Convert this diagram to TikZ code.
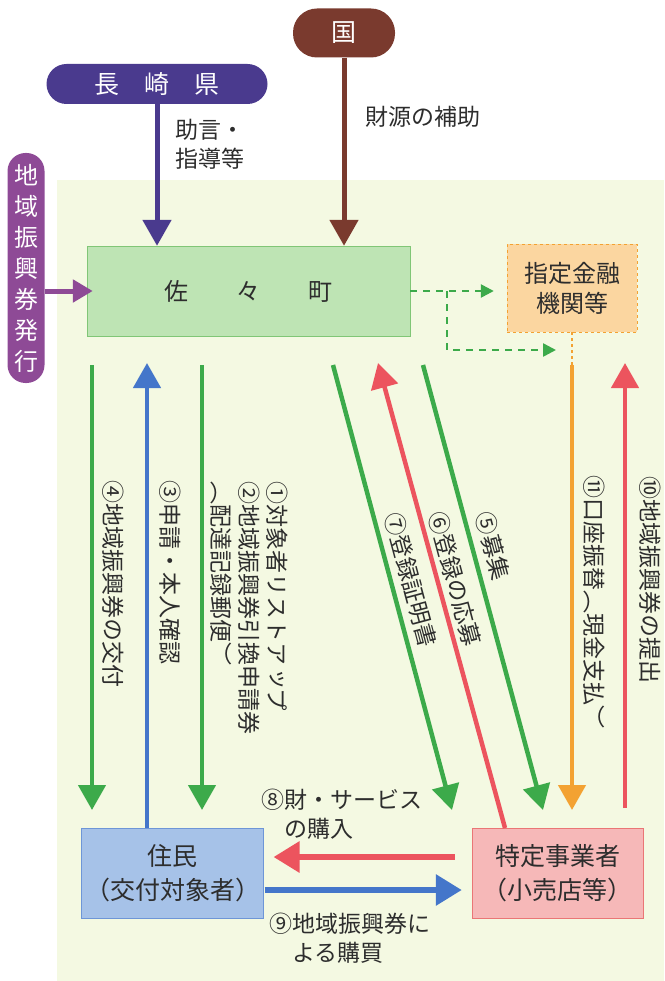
\documentclass[tikz,border=0pt]{standalone}
\usepackage{fontspec}
\setmainfont{Noto Sans CJK JP}
\newfontfamily\tatefont[Vertical=RotatedGlyphs]{Noto Sans CJK JP}
\usetikzlibrary{arrows.meta}
\usetikzlibrary{positioning}
\definecolor{kuni}{RGB}{122,58,46}
\definecolor{ken}{RGB}{74,58,142}
\definecolor{hakko}{RGB}{142,74,150}
\definecolor{midori}{RGB}{60,170,74}
\definecolor{ao}{RGB}{68,118,202}
\definecolor{aka}{RGB}{236,84,94}
\definecolor{daidai}{RGB}{243,162,50}
\definecolor{haikei}{RGB}{244,249,226}
\definecolor{moji}{RGB}{45,45,45}
\tikzstyle{capsule}=[rectangle, text=white, inner sep=0pt,
					font=\fontsize{25}{28}\selectfont, text centered]

\begin{document}
\begin{tikzpicture}[x=1pt, y=-1pt,
 boxnode/.style={rectangle, align=center, text=moji, minimum width=171pt, minimum height=90pt, font=\fontsize{25}{34}\selectfont},
 tatelabel/.style={rotate=-90, align=left, text=moji, inner sep=0pt, font=\tatefont\fontsize{23}{28}\selectfont},
 yokolabel/.style={align=left, text=moji, inner sep=0pt, font=\fontsize{23}{29}\selectfont},
 garrow/.style={draw=midori, line width=4.5pt, -{Triangle[width=27pt,length=25pt]}},
 barrow/.style={draw=ao, line width=4.5pt, -{Triangle[width=27pt,length=25pt]}},
 rarrow/.style={draw=aka, line width=4.5pt, -{Triangle[width=27pt,length=25pt]}},
 oarrow/.style={draw=daidai, line width=4.5pt, -{Triangle[width=27pt,length=25pt]}},
 dgarrow/.style={draw=midori, line width=2.5pt, dash pattern=on 7pt off 6pt, -{Triangle[width=13pt,length=13pt]}},
 ]
 \useasboundingbox (0,0) rectangle (664,981);
 \fill[haikei] (57,180) rectangle (664,981);

 %Nodes
 \node[capsule, fill=kuni, minimum width=102pt, minimum height=49pt, rounded corners=24pt] (kuni_node) at (344,33) {国};
 \node[capsule, fill=ken, minimum width=221pt, minimum height=40pt, rounded corners=20pt] (ken_node) at (157,84) {長　崎　県};
 \node[capsule, fill=hakko, minimum width=37pt, minimum height=230pt, rounded corners=18pt, align=center, font=\fontsize{24}{31}\selectfont] (hakko_node) at (26,268) {地\\域\\振\\興\\券\\発\\行};
 \node[boxnode, fill={rgb,255:red,190;green,228;blue,180}, draw={rgb,255:red,128;green,198;blue,118}, minimum width=323pt, font=\fontsize{24}{30}\selectfont] (sasa_node) at (248.5,291) {佐　　々　　町};
 \node[boxnode, fill={rgb,255:red,251;green,214;blue,160}, draw=daidai, dashed, minimum width=130pt, minimum height=88pt, font=\fontsize{24}{30}\selectfont] (shitei_node) at (572,288) {指定金融\\機関等};
 \node[boxnode, fill={rgb,255:red,166;green,194;blue,232}, draw={rgb,255:red,110;green,150;blue,215}] (jumin_node) at (172.5,873) {住民\\（交付対象者）};
 \node[boxnode, fill={rgb,255:red,246;green,184;blue,184}, draw={rgb,255:red,234;green,118;blue,118}] (tokutei_node) at (557.5,873) {特定事業者\\（小売店等）};

 %Labels
 \node[yokolabel, anchor=west] (jogen_label) at (175,144) {助言・\\指導等};
 \node[yokolabel, anchor=west] (zaigen_label) at (365,117) {財源の補助};
 \node[tatelabel] (kofu_label) at (113,584) {④地域振興券の交付};
 \node[tatelabel] (shinsei_label) at (170,572) {③申請・本人確認};
 \node[tatelabel] (list_label) at (249,608) {①対象者リストアップ\\②地域振興券引換申請券\\（配達記録郵便）};
 \node[tatelabel, rotate=15] (shomei_label) at (411,580) {⑦登録証明書};
 \node[tatelabel, rotate=15] (oubo_label) at (455,579) {⑥登録の応募};
 \node[tatelabel, rotate=15] (boshu_label) at (493,546) {⑤募集};
 \node[tatelabel] (koza_label) at (594,602) {⑪口座振替（現金支払）};
 \node[tatelabel] (teishutsu_label) at (650,580) {⑩地域振興券の提出};
 \node[yokolabel, anchor=west] (kounyu_label) at (261,814) {⑧財・サービス\\\phantom{⑧}の購入};
 \node[yokolabel, anchor=west] (kobai_label) at (269,938) {⑨地域振興券に\\\phantom{⑨}よる購買};

 %Coordinates
 \coordinate (p4a) at (92,365);  \coordinate (p4b) at (92,810);
 \coordinate (p3a) at (147,828); \coordinate (p3b) at (147,363);
 \coordinate (p1a) at (202,365); \coordinate (p1b) at (202,810);
 \coordinate (p7a) at (333,365); \coordinate (p7b) at (452,810);
 \coordinate (p6a) at (505,828); \coordinate (p6b) at (378,363);
 \coordinate (p5a) at (423,365); \coordinate (p5b) at (543,810);
 \coordinate (p11a) at (572,365); \coordinate (p11b) at (572,810);
 \coordinate (p10a) at (625,808); \coordinate (p10b) at (625,363);
 \coordinate (dash_branch) at (447,291); \coordinate (dash_end) at (556,350);

 %Lines
 \draw[draw=kuni, line width=5pt, -{Triangle[width=28pt,length=26pt]}] (kuni_node.south) -- (kuni_node.south |- sasa_node.north);
 \draw[draw=ken, line width=5pt, -{Triangle[width=28pt,length=26pt]}] (ken_node.south) -- (ken_node.south |- sasa_node.north);
 \draw[draw=hakko, line width=5pt, -{Triangle[width=22pt,length=20pt]}, shorten >=-6pt] (hakko_node.east |- sasa_node.west) -- (sasa_node.west);
 \draw[dgarrow, shorten >=13pt] (sasa_node.east) -- (sasa_node.east -| shitei_node.west);
 \draw[dgarrow] (dash_branch) |- (dash_end);
 \draw[draw=daidai, line width=2pt, dashed] (shitei_node.south) -- (p11a);
 \draw[garrow] (p4a) -- (p4b);
 \draw[barrow] (p3a) -- (p3b);
 \draw[garrow] (p1a) -- (p1b);
 \draw[garrow] (p7a) -- (p7b);
 \draw[rarrow] (p6a) -- (p6b);
 \draw[garrow] (p5a) -- (p5b);
 \draw[oarrow] (p11a) -- (p11b);
 \draw[rarrow] (p10a) -- (p10b);
 \draw[rarrow, line width=6pt, -{Triangle[width=30pt,length=26pt]}, shorten <=17pt, shorten >=10pt] ([yshift=16pt]tokutei_node.west) -- ([yshift=16pt]jumin_node.east);
 \draw[barrow, line width=6pt, -{Triangle[width=30pt,length=26pt]}, shorten <=1pt, shorten >=10pt] ([yshift=-17pt]jumin_node.east) -- ([yshift=-17pt]tokutei_node.west);
\end{tikzpicture}
\end{document}
